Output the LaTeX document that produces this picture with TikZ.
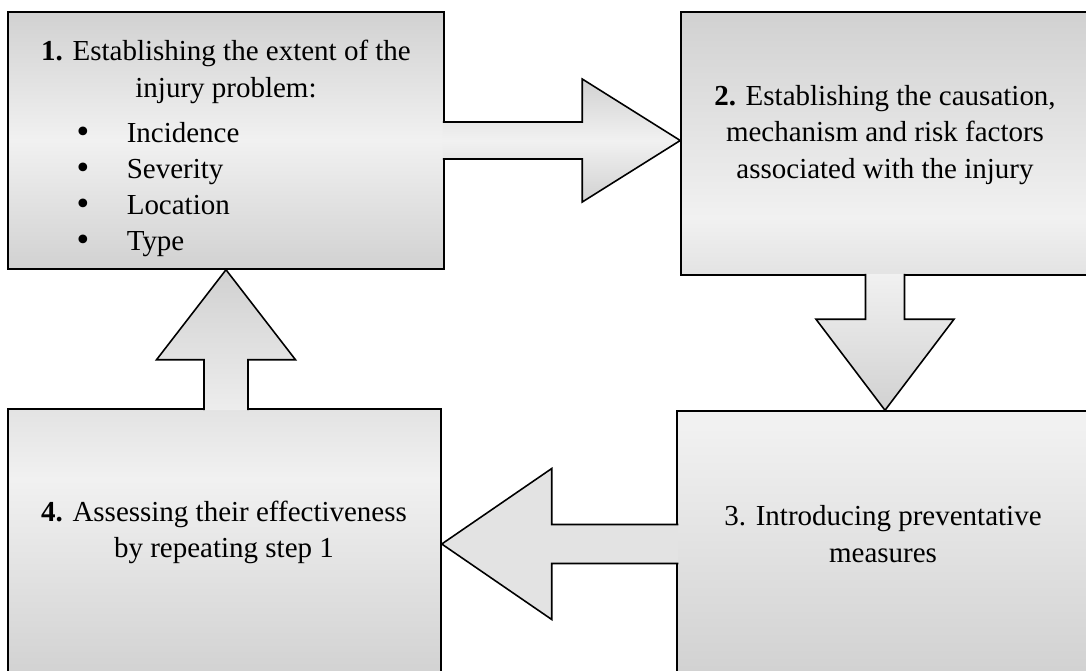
\documentclass[tikz,border=0pt]{standalone}
\usepackage{fontspec}
\setmainfont{Liberation Serif}
\newfontfamily\vinetas{DejaVu Sans}
\usepackage{tikz}
\usetikzlibrary{calc,positioning}
\definecolor{grisosc}{gray}{0.82}
\definecolor{grismed}{gray}{0.89}
\definecolor{grisclaro}{gray}{0.945}
\pgfdeclareverticalshading{sombrauno}{100bp}{color(0bp)=(grisosc); color(25bp)=(grisosc); color(50bp)=(grisclaro); color(75bp)=(grisosc); color(100bp)=(grisosc)}
\pgfdeclareverticalshading{sombrados}{100bp}{color(0bp)=(grismed); color(25bp)=(grismed); color(36bp)=(grisclaro); color(75bp)=(grisosc); color(100bp)=(grisosc)}
\pgfdeclareverticalshading{sombratres}{100bp}{color(0bp)=(grisosc); color(25bp)=(grisosc); color(72bp)=(grisclaro); color(100bp)=(grisclaro)}
\pgfdeclareverticalshading{sombracuatro}{100bp}{color(0bp)=(grisosc); color(25bp)=(grisosc); color(62bp)=(grisclaro); color(75bp)=(grismed); color(100bp)=(grismed)}
\tikzstyle{rectgris} = [rectangle, draw=black, shade, shading=sombrauno, inner sep=0pt]
\tikzstyle{flechagris} = [draw=black, shade, line join=miter]
\tikzstyle{texto} = [align=center, inner sep=0pt]

\begin{document}
\begin{tikzpicture}[x=0.02cm, y=-0.02cm, line width=0.9pt, font=\fontsize{16.5}{20.8}\selectfont]
	\useasboundingbox (0,0) rectangle (1086,670);
	\clip (0,0) rectangle (1086,670);
	% Cuadros
	\node (extent) [rectgris, minimum width=8.72cm, minimum height=5.14cm] at (226,140.5) {};
	\node (causes) [rectgris, shading=sombrados, minimum width=8.16cm, minimum height=5.26cm] at (885,143.5) {};
	\node (measures) [rectgris, shading=sombratres, minimum width=8.32cm, minimum height=5.32cm] at (885,544) {};
	\node (assess) [rectgris, shading=sombracuatro, minimum width=8.66cm, minimum height=5.4cm] at (224.5,544) {};
	% Flechas
	\coordinate (tipR) at (causes.west |- extent.east);
	\draw[flechagris, shading=sombrauno] ($(extent.east)+(-2,-18.5)$) -- ($(tipR)+(-98,-18.5)$) -- ($(tipR)+(-98,-61.5)$) -- (tipR) -- ($(tipR)+(-98,61.5)$) -- ($(tipR)+(-98,18.5)$) -- ($(extent.east)+(-2,18.5)$);
	\coordinate (tipD) at (measures.north);
	\coordinate (baseD) at (tipD |- causes.south);
	\draw[flechagris, top color=grisclaro, bottom color=grisosc] ($(baseD)+(-19.5,-2)$) -- ($(tipD)+(-19.5,-91)$) -- ($(tipD)+(-69,-91)$) -- (tipD) -- ($(tipD)+(69,-91)$) -- ($(tipD)+(19.5,-91)$) -- ($(baseD)+(19.5,-2)$);
	\coordinate (tipL) at (assess.east);
	\draw[flechagris, top color=grismed, middle color=grisclaro!60!grismed, bottom color=grismed] ($(measures.west)+(2,-19.5)$) -- ($(tipL)+(110,-19.5)$) -- ($(tipL)+(110,-75.5)$) -- (tipL) -- ($(tipL)+(110,75.5)$) -- ($(tipL)+(110,19.5)$) -- ($(measures.west)+(2,19.5)$);
	\coordinate (tipU) at (extent.south);
	\coordinate (baseU) at (tipU |- assess.north);
	\draw[flechagris, top color=grisosc, bottom color=grisclaro!70!grismed] ($(baseU)+(-22,2)$) -- ($(tipU)+(-22,90)$) -- ($(tipU)+(-69.5,90)$) -- (tipU) -- ($(tipU)+(69.5,90)$) -- ($(tipU)+(22,90)$) -- ($(baseU)+(22,2)$);
	% Textos
	\node (extenttxt) [texto] at (226,71.8) {\textbf{1.} Establishing the extent of the\\injury problem:};
	\foreach \palabra [count=\i] in {Incidence,Severity,Location,Type} {
		\node (bul\i) [texto, anchor=base, font=\vinetas\fontsize{17}{17}\selectfont] at (83,{142+36*(\i-1)}) {\textbullet};
		\node (item\i) [texto, anchor=base west] at (126,{142+36*(\i-1)}) {\palabra};
	}
	\node (causestxt) [texto] at (885,134.9) {\textbf{2.} Establishing the causation,\\mechanism and risk factors\\associated with the injury};
	\node (measurestxt) [texto] at (883,534) {3. Introducing preventative\\measures};
	\node (assesstxt) [texto] at (224,532.3) {\textbf{4.} Assessing their effectiveness\\by repeating step 1};
\end{tikzpicture}
\end{document}
